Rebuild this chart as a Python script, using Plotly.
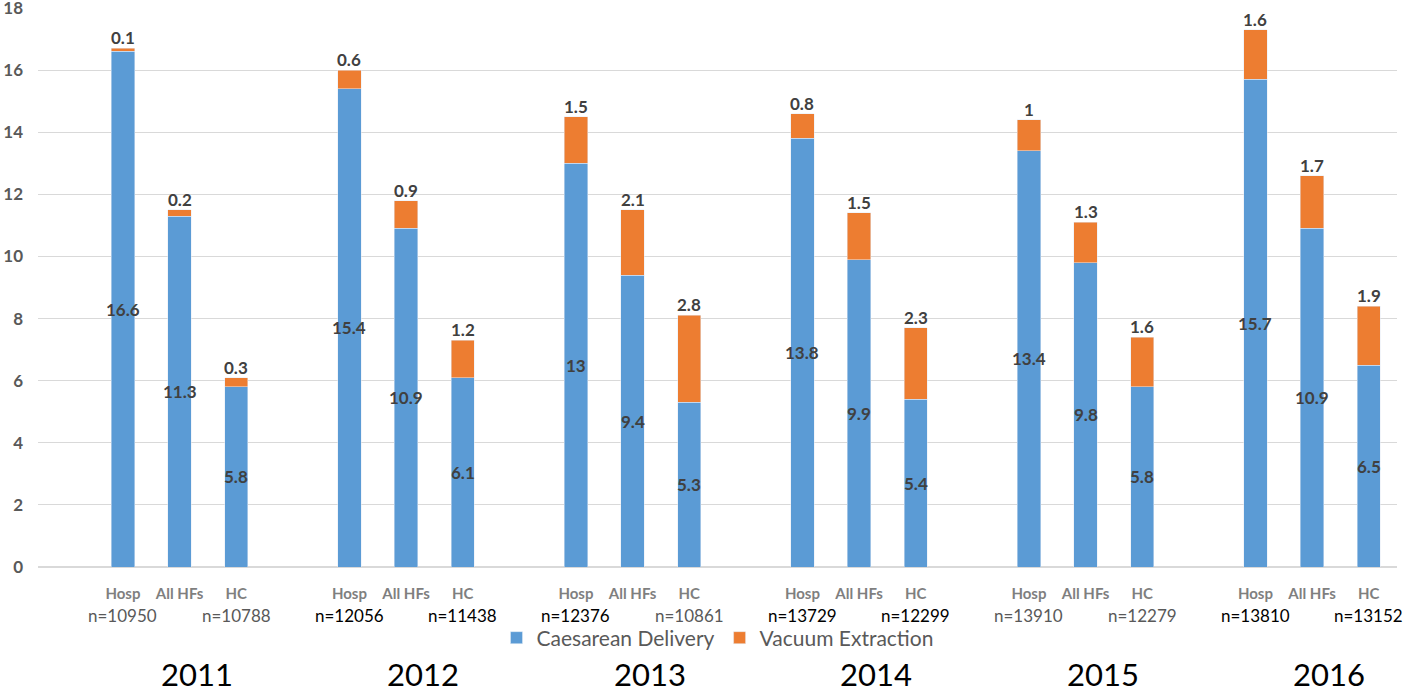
import plotly.graph_objects as go

years = ["2011", "2012", "2013", "2014", "2015", "2016"]
facilities = ["Hosp", "All HFs", "HC"]
caesarean = [16.6, 11.3, 5.8, 15.4, 10.9, 6.1, 13, 9.4, 5.3,
             13.8, 9.9, 5.4, 13.4, 9.8, 5.8, 15.7, 10.9, 6.5]
vacuum = [0.1, 0.2, 0.3, 0.6, 0.9, 1.2, 1.5, 2.1, 2.8,
          0.8, 1.5, 2.3, 1, 1.3, 1.6, 1.6, 1.7, 1.9]
n_hosp = ["n=10950", "n=12056", "n=12376", "n=13729", "n=13910", "n=13810"]
n_hc = ["n=10788", "n=11438", "n=10861", "n=12299", "n=12279", "n=13152"]

# n-label colours as they appear in the source (some black, some grey)
n_hosp_col = ["#595959", "black", "black", "black", "#595959", "black"]
n_hc_col = ["#595959", "black", "#595959", "black", "#595959", "black"]

FONT = "Lato"
BLUE = "#5b9bd5"
ORANGE = "#ed7d31"
LABEL = dict(family=FONT, size=17, color="#404040", weight="bold")

# each year occupies 4 slots: an empty one, then Hosp, All HFs, HC
xs, ticktext = [], []
for g in range(len(years)):
    for i, f in enumerate(facilities):
        xs.append(4 * g + 1 + i)
        ticktext.append(f)

fig = go.Figure()
fig.add_bar(x=xs, y=caesarean, name="Caesarean Delivery", marker_color=BLUE, width=0.41)
fig.add_bar(x=xs, y=vacuum, name="Vacuum Extraction", marker_color=ORANGE, width=0.41)

annotations = []
# value labels: caesarean centred in its segment, vacuum just above the stack
for x, c, v in zip(xs, caesarean, vacuum):
    annotations.append(dict(x=x, y=c / 2, xref="x", yref="y", text=f"{c:g}",
                            showarrow=False, yanchor="middle", font=LABEL))
    annotations.append(dict(x=x, y=c + v, xref="x", yref="y", text=f"{v:g}",
                            showarrow=False, yanchor="bottom", yshift=-2, font=LABEL))

for g, yr in enumerate(years):
    base = 4 * g
    annotations.append(dict(x=base + 1, y=0, xref="x", yref="paper", text=n_hosp[g],
                            showarrow=False, yanchor="middle", yshift=-48,
                            font=dict(family=FONT, size=17, color=n_hosp_col[g])))
    annotations.append(dict(x=base + 3, y=0, xref="x", yref="paper", text=n_hc[g],
                            showarrow=False, yanchor="middle", yshift=-48,
                            font=dict(family=FONT, size=17, color=n_hc_col[g])))
    annotations.append(dict(x=base + 2.3, y=0, xref="x", yref="paper", text=yr,
                            showarrow=False, yanchor="middle", yshift=-107,
                            font=dict(family=FONT, size=31, color="black")))

fig.update_layout(
    barmode="stack",
    width=1418, height=692,
    margin=dict(l=38, r=21, t=8, b=125, autoexpand=False),
    plot_bgcolor="white", paper_bgcolor="white",
    font=dict(family=FONT),
    legend=dict(orientation="h", x=0.5, xanchor="center", y=-0.127, yanchor="middle",
                font=dict(family=FONT, size=21, color="#595959"),
                traceorder="normal"),
    annotations=annotations,
)
fig.update_xaxes(range=[-0.5, 23.5], tickvals=xs, ticktext=ticktext,
                 showgrid=False, zeroline=False, showline=False,
                 ticks="", ticklabelstandoff=16, automargin=False,
                 tickfont=dict(family=FONT, size=15, color="#7f7f7f", weight="bold"))
fig.update_yaxes(range=[0, 18], dtick=2, showgrid=True, gridcolor="#d9d9d9",
                 gridwidth=1, zeroline=True, zerolinecolor="#d9d9d9",
                 ticks="", ticklabelstandoff=14, automargin=False,
                 ticklabeloverflow="allow",
                 tickfont=dict(family=FONT, size=17, color="#595959", weight="bold"))

# drop the default 8px body margin so the figure fills the window exactly
fig.write_html("out.html", config={"displayModeBar": False},
               post_script="document.body.style.margin = '0';")
